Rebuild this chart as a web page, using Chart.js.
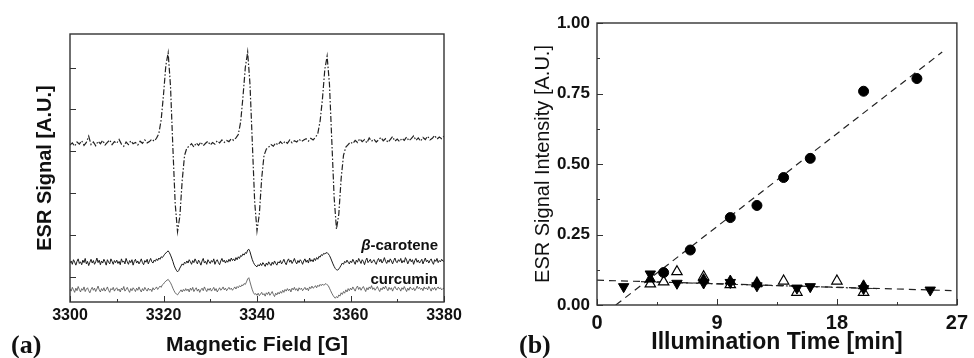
<!DOCTYPE html>
<html>
<head>
<meta charset="utf-8">
<script src="https://cdn.jsdelivr.net/npm/chart.js@4.4.1/dist/chart.umd.min.js"></script>
<style>
    body { margin: 0; background: #fff; width: 974px; height: 358px; position: relative; overflow: hidden; font-family: "Liberation Sans", Arial, sans-serif; }
    .wrap { position: absolute; top: 0; width: 487px; height: 358px; }
    .panel { position: absolute; font-family: "Liberation Serif", serif; font-weight: bold; font-size: 26px; line-height: 1; color: #111; }
    .tag { position: absolute; font-weight: bold; font-size: 15px; line-height: 1; color: #111; text-align: right; width: 120px; }
</style>
</head>
<body>
<div class="wrap" style="left:0"><canvas id="spectraChart" width="487" height="358"></canvas></div>
<div class="wrap" style="left:487px"><canvas id="kineticsChart" width="487" height="358"></canvas></div>
<div class="panel" style="left:11px; top:332px">(a)</div>
<div class="panel" style="left:519px; top:332px">(b)</div>
<div class="tag" style="left:318px; top:237px"><i>β</i>-carotene</div>
<div class="tag" style="left:318px; top:271px">curcumin</div>

<script>
// ---- panel (a): ESR spectra, all starting at 3300 G ----
const fieldStart = 3300;
const spinTrapStep = 0.5;   // G between values of the upper spectrum
const sampleStep = 0.25;    // G between values of the two lower spectra

const spinTrapSignal = [
    3.15, 3.20, 3.12, 3.22, 3.17, 3.25, 3.14, 3.21, 3.36, 3.16,
    3.22, 3.13, 3.24, 3.18, 3.26, 3.15, 3.21, 3.27, 3.16, 3.23,
    3.19, 3.28, 3.17, 3.12, 3.22, 3.16, 3.25, 3.18, 3.21, 3.15,
    3.24, 3.19, 3.27, 3.20, 3.23, 3.29, 3.24, 3.31, 3.42, 3.75,
    4.35, 5.05, 5.35, 4.55, 3.10, 1.75, 1.08, 1.45, 2.30, 2.90,
    3.08, 3.12, 3.18, 3.10, 3.20, 3.14, 3.22, 3.13, 3.19, 3.24,
    3.15, 3.21, 3.17, 3.25, 3.20, 3.27, 3.21, 3.26, 3.23, 3.30,
    3.26, 3.32, 3.40, 3.70, 4.30, 5.00, 5.37, 4.60, 3.20, 1.80,
    1.10, 1.50, 2.35, 2.90, 3.05, 3.10, 3.16, 3.12, 3.20, 3.15,
    3.23, 3.17, 3.24, 3.19, 3.27, 3.20, 3.25, 3.22, 3.29, 3.23,
    3.27, 3.30, 3.24, 3.31, 3.27, 3.33, 3.42, 3.72, 4.25, 4.95,
    5.27, 4.60, 3.25, 1.90, 1.14, 1.50, 2.35, 2.90, 3.10, 3.16,
    3.22, 3.18, 3.26, 3.21, 3.30, 3.23, 3.28, 3.20, 3.32, 3.24,
    3.29, 3.22, 3.27, 3.33, 3.25, 3.30, 3.21, 3.28, 3.35, 3.24,
    3.29, 3.23, 3.31, 3.26, 3.34, 3.25, 3.30, 3.37, 3.26, 3.32,
    3.24, 3.33, 3.28, 3.36, 3.27, 3.31, 3.38, 3.29, 3.34, 3.30,
    3.36
];

const betaCaroteneSignal = [
    0.33, 0.38, 0.30, 0.41, 0.35, 0.28, 0.37, 0.43, 0.32, 0.36, 0.29, 0.40, 0.34, 0.44, 0.31, 0.37, 0.27, 0.35, 0.42, 0.33,
    0.39, 0.30, 0.36, 0.45, 0.34, 0.40, 0.29, 0.38, 0.33, 0.42, 0.36, 0.28, 0.41, 0.35, 0.31, 0.43, 0.37, 0.30, 0.39, 0.34,
    0.40, 0.32, 0.37, 0.29, 0.43, 0.35, 0.38, 0.31, 0.44, 0.36, 0.30, 0.39, 0.34, 0.41, 0.28, 0.37, 0.42, 0.33, 0.38, 0.31,
    0.36, 0.43, 0.34, 0.29, 0.39, 0.35, 0.42, 0.31, 0.38, 0.44, 0.36, 0.33, 0.40, 0.37, 0.43, 0.39, 0.45, 0.42, 0.48, 0.46,
    0.50, 0.54, 0.57, 0.60, 0.62, 0.58, 0.52, 0.45, 0.37, 0.28, 0.21, 0.16, 0.12, 0.15, 0.21, 0.26, 0.31, 0.28, 0.35, 0.32,
    0.38, 0.33, 0.41, 0.36, 0.30, 0.39, 0.34, 0.43, 0.37, 0.31, 0.40, 0.35, 0.28, 0.38, 0.44, 0.33, 0.37, 0.30, 0.41, 0.36,
    0.32, 0.39, 0.35, 0.43, 0.30, 0.37, 0.41, 0.34, 0.29, 0.38, 0.44, 0.36, 0.40, 0.33, 0.39, 0.35, 0.42, 0.37, 0.45, 0.39,
    0.43, 0.38, 0.46, 0.41, 0.48, 0.44, 0.51, 0.49, 0.55, 0.52, 0.58, 0.56, 0.64, 0.66, 0.60, 0.50, 0.41, 0.34, 0.29, 0.26,
    0.24, 0.29, 0.26, 0.32, 0.27, 0.34, 0.30, 0.25, 0.33, 0.28, 0.36, 0.31, 0.27, 0.35, 0.30, 0.38, 0.32, 0.28, 0.36, 0.33,
    0.39, 0.31, 0.36, 0.42, 0.34, 0.29, 0.38, 0.43, 0.35, 0.40, 0.32, 0.37, 0.44, 0.36, 0.31, 0.39, 0.34, 0.41, 0.37, 0.30,
    0.38, 0.43, 0.35, 0.40, 0.33, 0.45, 0.37, 0.41, 0.36, 0.44, 0.39, 0.46, 0.42, 0.49, 0.47, 0.53, 0.51, 0.56, 0.55, 0.57,
    0.58, 0.55, 0.51, 0.45, 0.38, 0.31, 0.25, 0.20, 0.17, 0.16, 0.19, 0.23, 0.28, 0.33, 0.30, 0.37, 0.34, 0.40, 0.35, 0.31,
    0.38, 0.34, 0.42, 0.36, 0.30, 0.40, 0.35, 0.44, 0.38, 0.32, 0.41, 0.37, 0.29, 0.39, 0.45, 0.34, 0.38, 0.42, 0.33, 0.37,
    0.41, 0.35, 0.30, 0.39, 0.44, 0.36, 0.42, 0.33, 0.38, 0.46, 0.37, 0.32, 0.40, 0.35, 0.43, 0.38, 0.31, 0.39, 0.45, 0.36,
    0.34, 0.41, 0.37, 0.44, 0.33, 0.39, 0.35, 0.46, 0.40, 0.31, 0.38, 0.43, 0.36, 0.41, 0.30, 0.39, 0.44, 0.35, 0.40, 0.33,
    0.37, 0.42, 0.31, 0.38, 0.45, 0.36, 0.40, 0.33, 0.39, 0.43, 0.35, 0.30, 0.41, 0.37, 0.44, 0.34, 0.39, 0.36, 0.42, 0.38,
    0.37
];

const curcuminSignal = [
    -0.29, -0.34, -0.25, -0.31, -0.37, -0.27, -0.33, -0.23, -0.30, -0.36, -0.28, -0.32, -0.24, -0.35, -0.29, -0.26, -0.33, -0.38, -0.30, -0.25,
    -0.32, -0.27, -0.35, -0.29, -0.22, -0.31, -0.36, -0.28, -0.33, -0.26, -0.34, -0.30, -0.24, -0.32, -0.37, -0.28, -0.31, -0.25, -0.34, -0.29,
    -0.26, -0.33, -0.29, -0.36, -0.27, -0.31, -0.23, -0.34, -0.30, -0.25, -0.32, -0.37, -0.28, -0.33, -0.26, -0.30, -0.35, -0.27, -0.32, -0.24,
    -0.31, -0.36, -0.28, -0.33, -0.25, -0.30, -0.34, -0.27, -0.32, -0.29, -0.35, -0.26, -0.31, -0.28, -0.24, -0.30, -0.26, -0.22, -0.25, -0.19,
    -0.17, -0.13, -0.10, -0.08, -0.06, -0.10, -0.14, -0.20, -0.27, -0.33, -0.38, -0.41, -0.43, -0.39, -0.35, -0.31, -0.36, -0.30, -0.34, -0.28,
    -0.33, -0.29, -0.36, -0.27, -0.32, -0.25, -0.35, -0.30, -0.26, -0.34, -0.29, -0.37, -0.31, -0.27, -0.33, -0.24, -0.30, -0.35, -0.28, -0.32,
    -0.27, -0.34, -0.30, -0.25, -0.33, -0.28, -0.36, -0.31, -0.26, -0.32, -0.29, -0.24, -0.31, -0.27, -0.33, -0.29, -0.25, -0.30, -0.27, -0.32,
    -0.28, -0.24, -0.29, -0.23, -0.26, -0.21, -0.24, -0.19, -0.21, -0.16, -0.18, -0.12, -0.05, -0.02, -0.12, -0.22, -0.31, -0.38, -0.42, -0.40,
    -0.44, -0.39, -0.45, -0.41, -0.37, -0.43, -0.40, -0.46, -0.38, -0.42, -0.36, -0.44, -0.40, -0.35, -0.42, -0.47, -0.39, -0.43, -0.37, -0.41,
    -0.35, -0.39, -0.32, -0.37, -0.30, -0.34, -0.28, -0.33, -0.29, -0.36, -0.27, -0.31, -0.25, -0.32, -0.28, -0.34, -0.26, -0.30, -0.27, -0.33,
    -0.29, -0.25, -0.31, -0.27, -0.33, -0.24, -0.28, -0.22, -0.27, -0.25, -0.21, -0.26, -0.20, -0.23, -0.18, -0.21, -0.17, -0.20, -0.18, -0.16,
    -0.19, -0.21, -0.27, -0.33, -0.39, -0.44, -0.48, -0.51, -0.47, -0.50, -0.43, -0.46, -0.38, -0.42, -0.35, -0.39, -0.31, -0.36, -0.28, -0.33,
    -0.27, -0.31, -0.24, -0.29, -0.34, -0.26, -0.22, -0.30, -0.25, -0.32, -0.27, -0.23, -0.29, -0.35, -0.26, -0.31, -0.24, -0.28, -0.21, -0.30,
    -0.26, -0.32, -0.28, -0.23, -0.30, -0.35, -0.27, -0.31, -0.24, -0.29, -0.22, -0.28, -0.33, -0.25, -0.30, -0.26, -0.34, -0.27, -0.23, -0.29,
    -0.31, -0.25, -0.28, -0.34, -0.26, -0.30, -0.23, -0.29, -0.35, -0.27, -0.32, -0.24, -0.28, -0.31, -0.26, -0.33, -0.29, -0.22, -0.28, -0.25,
    -0.30, -0.27, -0.33, -0.24, -0.29, -0.26, -0.31, -0.23, -0.28, -0.34, -0.26, -0.30, -0.25, -0.32, -0.27, -0.24, -0.29, -0.26, -0.31, -0.28,
    -0.27
];

// ---- panel (b): signal intensity vs illumination time ----
const circleTimes = [5, 7, 10, 12, 14, 16, 20, 24];
const circleValues = [0.115, 0.195, 0.31, 0.353, 0.452, 0.52, 0.758, 0.803];

const downTimes = [2, 4, 6, 8, 10, 12, 15, 16, 20, 25];
const downValues = [0.065, 0.11, 0.077, 0.078, 0.08, 0.068, 0.06, 0.065, 0.058, 0.053];

const openTimes = [4, 5, 6, 8, 10, 12, 14, 15, 18, 20];
const openValues = [0.075, 0.082, 0.118, 0.1, 0.072, 0.078, 0.085, 0.045, 0.085, 0.045];

const upTimes = [4, 8, 10, 12, 20];
const upValues = [0.092, 0.09, 0.085, 0.075, 0.068];

// fitted lines (end points)
const growthFitTimes = [1.41, 25.9];
const growthFitValues = [0, 0.897];
const flatFitTimes = [0, 26.6];
const flatFitValues = [0.088, 0.051];
const dashDotFitTimes = [3.3, 21];
const dashDotFitValues = [0.083, 0.058];

function spectrumPoints(values, step) {
    return values.map((v, i) => ({ x: fieldStart + i * step, y: v }));
}
function pairPoints(xs, ys) {
    return xs.map((x, i) => ({ x: x, y: ys[i] }));
}
function isMultiple(v, step) {
    const r = v / step;
    return Math.abs(r - Math.round(r)) < 1e-6;
}

// box around the plot area plus ticks pointing inward
const frameTicks = {
    id: "frameTicks",
    afterDraw(chart, args, opts) {
        const { ctx, chartArea: a, scales } = chart;
        ctx.save();
        ctx.strokeStyle = "#333";
        ctx.lineWidth = 1;
        scales.x.ticks.forEach(t => {
            const px = Math.round(scales.x.getPixelForValue(t.value)) + 0.5;
            const len = isMultiple(t.value, opts.majorX) ? 6 : 3;
            ctx.beginPath();
            ctx.moveTo(px, a.bottom);
            ctx.lineTo(px, a.bottom - len);
            ctx.stroke();
        });
        scales.y.ticks.forEach(t => {
            const py = Math.round(scales.y.getPixelForValue(t.value)) + 0.5;
            const len = isMultiple(t.value, opts.majorY) ? 6 : 3;
            ctx.beginPath();
            ctx.moveTo(a.left, py);
            ctx.lineTo(a.left + len, py);
            ctx.stroke();
        });
        ctx.lineWidth = 1.4;
        ctx.strokeRect(a.left, a.top, a.right - a.left, a.bottom - a.top);
        ctx.restore();
    }
};

Chart.defaults.font.family = '"Liberation Sans", Arial, sans-serif';
Chart.defaults.color = "#111";

new Chart(document.getElementById("spectraChart"), {
    type: "line",
    data: {
        datasets: [
            { data: spectrumPoints(spinTrapSignal, spinTrapStep), borderColor: "#222", borderWidth: 1.2, borderDash: [6, 2, 1.5, 2] },
            { data: spectrumPoints(betaCaroteneSignal, sampleStep), borderColor: "#1a1a1a", borderWidth: 1 },
            { data: spectrumPoints(curcuminSignal, sampleStep), borderColor: "#4a4a4a", borderWidth: 0.8 }
        ]
    },
    options: {
        responsive: false,
        animation: false,
        devicePixelRatio: 1,
        elements: { point: { radius: 0 }, line: { tension: 0 } },
        layout: { padding: { top: 34, right: 43, left: 0, bottom: 0 } },
        plugins: {
            legend: { display: false },
            tooltip: { enabled: false },
            frameTicks: { majorX: 20, majorY: 1 }
        },
        scales: {
            x: {
                type: "linear",
                min: 3300,
                max: 3380,
                grid: { display: false, drawTicks: false },
                border: { display: false },
                ticks: {
                    stepSize: 10,
                    autoSkip: false,
                    maxRotation: 0,
                    padding: 4,
                    font: { size: 16, weight: "bold" },
                    callback: v => (isMultiple(v, 20) ? String(v) : "")
                },
                title: { display: true, text: "Magnetic Field [G]", font: { size: 21, weight: "bold" }, padding: { top: 0, bottom: 0 } },
                afterFit: s => { s.height = 56; }
            },
            y: {
                min: -0.6,
                max: 5.8,
                grid: { display: false, drawTicks: false },
                border: { display: false },
                ticks: { stepSize: 1, includeBounds: false, display: false },
                title: { display: true, text: "ESR Signal [A.U.]", font: { size: 20, weight: "bold" }, padding: { top: 33, bottom: 0 } },
                afterFit: s => { s.width = 70; }
            }
        }
    },
    plugins: [frameTicks]
});

new Chart(document.getElementById("kineticsChart"), {
    type: "scatter",
    data: {
        datasets: [
            { data: pairPoints(circleTimes, circleValues), pointStyle: "circle", pointRadius: 5, backgroundColor: "#000", borderColor: "#000", borderWidth: 1, order: 1 },
            { data: pairPoints(downTimes, downValues), pointStyle: "triangle", pointRotation: 180, pointRadius: 6, backgroundColor: "#000", borderColor: "#000", borderWidth: 1, order: 2 },
            { data: pairPoints(upTimes, upValues), pointStyle: "triangle", pointRadius: 6, backgroundColor: "#000", borderColor: "#000", borderWidth: 1, order: 3 },
            { data: pairPoints(openTimes, openValues), pointStyle: "triangle", pointRadius: 6, backgroundColor: "#fff", borderColor: "#000", borderWidth: 1.2, order: 4 },
            { type: "line", data: pairPoints(growthFitTimes, growthFitValues), borderColor: "#222", borderWidth: 1.2, borderDash: [7, 5], pointRadius: 0, order: 10 },
            { type: "line", data: pairPoints(flatFitTimes, flatFitValues), borderColor: "#222", borderWidth: 1.2, borderDash: [7, 5], pointRadius: 0, order: 11 },
            { type: "line", data: pairPoints(dashDotFitTimes, dashDotFitValues), borderColor: "#333", borderWidth: 1.2, borderDash: [7, 3, 2, 3], pointRadius: 0, order: 12 }
        ]
    },
    options: {
        responsive: false,
        animation: false,
        devicePixelRatio: 1,
        layout: { padding: { top: 23, right: 14, left: 0, bottom: 0 } },
        plugins: {
            legend: { display: false },
            tooltip: { enabled: false },
            frameTicks: { majorX: 9, majorY: 0.25 }
        },
        scales: {
            x: {
                type: "linear",
                min: 0,
                max: 27,
                grid: { display: false, drawTicks: false },
                border: { display: false },
                ticks: {
                    stepSize: 4.5,
                    autoSkip: false,
                    maxRotation: 0,
                    padding: 6,
                    font: { size: 20, weight: "bold" },
                    callback: v => (isMultiple(v, 9) ? String(v) : "")
                },
                title: { display: true, text: "Illumination Time [min]", font: { size: 23, weight: "bold" }, padding: { top: 0, bottom: 2 } },
                afterFit: s => { s.height = 53; }
            },
            y: {
                min: 0,
                max: 1,
                grid: { display: false, drawTicks: false },
                border: { display: false },
                ticks: {
                    stepSize: 0.125,
                    autoSkip: false,
                    padding: 7,
                    font: { size: 17, weight: "bold" },
                    callback: v => (isMultiple(v, 0.25) ? v.toFixed(2) : "")
                },
                title: { display: true, text: "ESR Signal Intensity [A.U.]", font: { size: 20 }, padding: { top: 44, bottom: 0 } },
                afterFit: s => { s.width = 110; }
            }
        }
    },
    plugins: [frameTicks]
});
</script>
</body>
</html>
